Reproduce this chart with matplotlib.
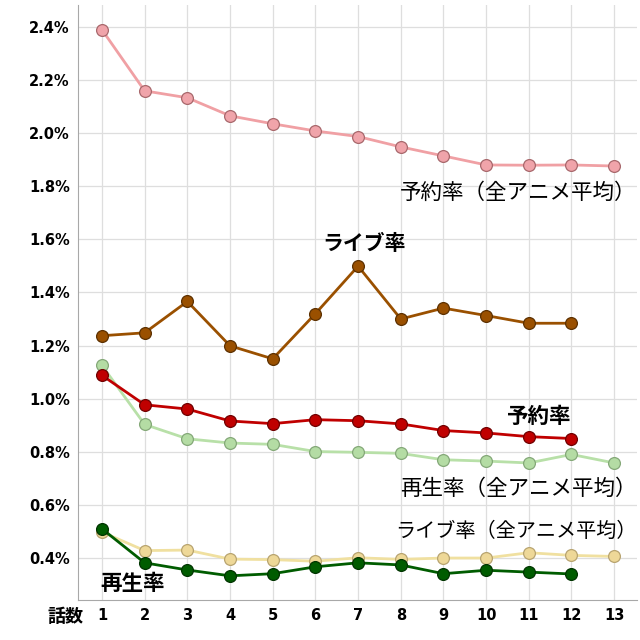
import matplotlib
matplotlib.use("Agg")
import matplotlib.pyplot as plt
from matplotlib.ticker import FuncFormatter

plt.rcParams['font.family'] = ['DejaVu Sans', 'Noto Sans CJK JP']

# episodes
ep = list(range(1, 14))
ep12 = list(range(1, 13))

# 予約率（全アニメ平均）
reserve_avg = [2.389, 2.159, 2.133, 2.065, 2.035, 2.008, 1.987, 1.948, 1.914, 1.880, 1.879, 1.880, 1.876]
# ライブ率
live = [1.237, 1.248, 1.366, 1.199, 1.150, 1.320, 1.499, 1.300, 1.341, 1.313, 1.284, 1.284]
# 予約率
reserve = [1.088, 0.977, 0.961, 0.916, 0.906, 0.921, 0.917, 0.905, 0.880, 0.871, 0.857, 0.850]
# 再生率（全アニメ平均）
play_avg = [1.125, 0.903, 0.849, 0.833, 0.828, 0.801, 0.798, 0.794, 0.770, 0.765, 0.758, 0.790, 0.758]
# ライブ率（全アニメ平均）
live_avg = [0.498, 0.428, 0.430, 0.396, 0.394, 0.388, 0.401, 0.395, 0.400, 0.400, 0.420, 0.410, 0.406]
# 再生率
play = [0.510, 0.382, 0.355, 0.333, 0.341, 0.367, 0.382, 0.374, 0.341, 0.354, 0.347, 0.340]

yticks = [0.4, 0.6, 0.8, 1.0, 1.2, 1.4, 1.6, 1.8, 2.0, 2.2, 2.4]

fig = plt.figure(figsize=(6.4, 6.4), dpi=100)
ax = fig.add_axes([0.122, 0.0625, 0.873, 0.93])

def draw(x, y, line, face, edge):
    ax.plot(x, y, color=line, lw=2.0, marker='o', ms=8.5, mfc=face, mec=edge, mew=0.9, zorder=3)

draw(ep, reserve_avg, '#F0A0A4', '#F0A4AA', '#A8686C')
draw(ep, play_avg, '#B8E0A8', '#B4DCA4', '#84A878')
draw(ep, live_avg, '#F0E0A0', '#EED898', '#B8A470')
draw(ep12, live, '#9A5000', '#9A5000', '#5C3000')
draw(ep12, reserve, '#C00000', '#C00000', '#700000')
draw(ep12, play, '#005C00', '#005C00', '#003400')

ax.set_xlim(0.44, 13.53)
ax.set_ylim(0.242, 2.483)
ax.set_xticks(ep)
ax.set_yticks(yticks)
ax.yaxis.set_major_formatter(FuncFormatter(lambda v, p: f"{v:.1f}%"))
ax.tick_params(length=0, labelsize=10.5, pad=6)
for lab in ax.get_xticklabels() + ax.get_yticklabels():
    lab.set_fontweight('bold')
ax.grid(True, color='#DEDEDE', lw=0.9)
ax.set_axisbelow(True)
for s in ['top', 'right']:
    ax.spines[s].set_visible(False)
for s in ['left', 'bottom']:
    ax.spines[s].set_color('#A8A8A8')

jp = ['Noto Sans CJK JP', 'DejaVu Sans']
ax.text(13.53, 1.775, '予約率（全アニメ平均）', fontsize=15.5, family=jp, ha='right', va='center')
ax.text(6.15, 1.585, 'ライブ率', fontsize=15, family=jp, weight='bold', ha='left', va='center')
ax.text(10.5, 0.932, '予約率', fontsize=15.5, family=jp, weight='bold', ha='left', va='center')
ax.text(13.53, 0.662, '再生率（全アニメ平均）', fontsize=15.5, family=jp, ha='right', va='center')
ax.text(13.53, 0.500, 'ライブ率（全アニメ平均）', fontsize=14.5, family=jp, ha='right', va='center')
ax.text(0.96, 0.305, '再生率', fontsize=15.5, family=jp, weight='bold', ha='left', va='center')
fig.text(66 / 640, 1 - 617 / 640, '話数', fontsize=13, family=jp, weight='bold', ha='center', va='center')

fig.savefig('out.png', dpi=100)
